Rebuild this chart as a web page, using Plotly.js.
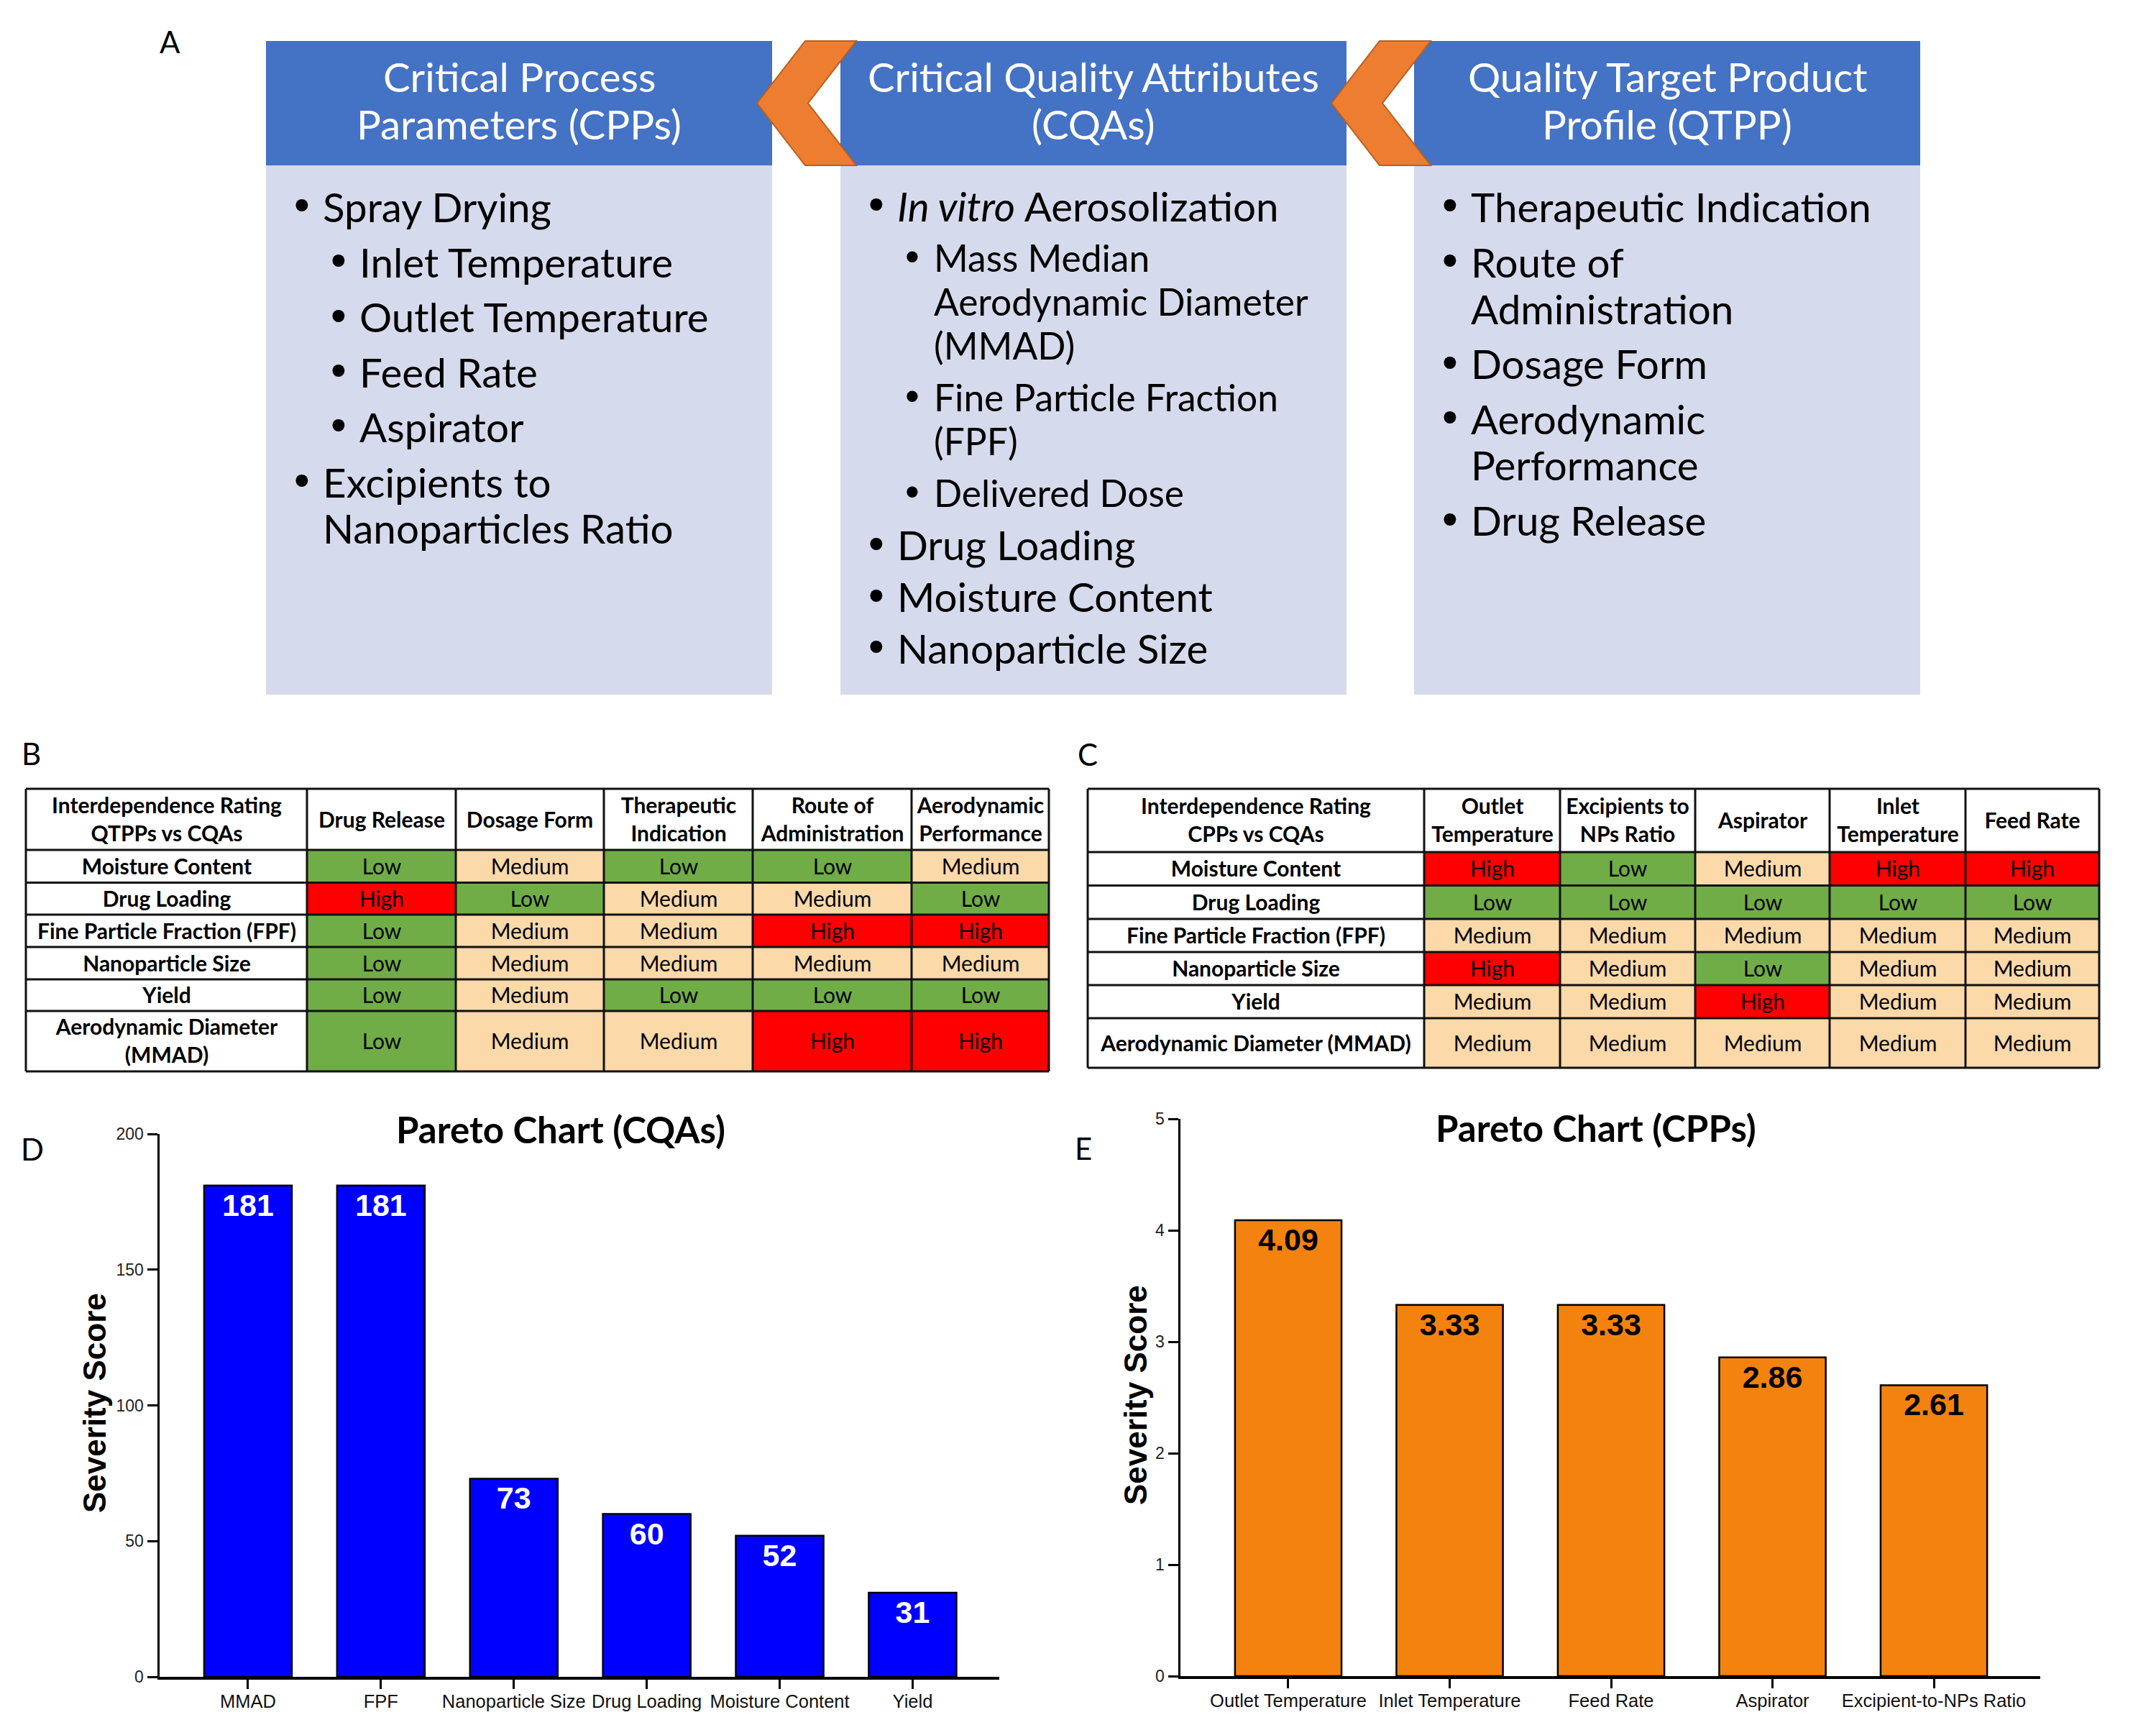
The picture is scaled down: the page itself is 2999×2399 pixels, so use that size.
<!DOCTYPE html>
<html>
<head>
<meta charset="utf-8">
<script src="https://cdn.plot.ly/plotly-3.0.1.min.js"></script>
<style>html,body{margin:0;padding:0;background:#fff;}#chart{width:2999px;height:2399px;}</style>
</head>
<body>
<div id="chart"></div>
<script>
// ---------------- DATA ----------------
const cqaLabels = ['MMAD', 'FPF', 'Nanoparticle Size', 'Drug Loading', 'Moisture Content', 'Yield'];
const cqaScores = [181, 181, 73, 60, 52, 31];
const cqaTicks = [0, 50, 100, 150, 200];

const cppLabels = ['Outlet Temperature', 'Inlet Temperature', 'Feed Rate', 'Aspirator', 'Excipient-to-NPs Ratio'];
const cppScores = [4.09, 3.33, 3.33, 2.86, 2.61];
const cppTicks = [0, 1, 2, 3, 4, 5];

const ratingLevels = ['Low', 'Medium', 'High'];

const tableBCorner = 'Interdependence Rating<br>QTPPs vs CQAs';
const tableBCols = ['Drug Release', 'Dosage Form', 'Therapeutic<br>Indication', 'Route of<br>Administration', 'Aerodynamic<br>Performance'];
const tableBRows = ['Moisture Content', 'Drug Loading', 'Fine Particle Fraction (FPF)', 'Nanoparticle Size', 'Yield', 'Aerodynamic Diameter<br>(MMAD)'];
const tableBRatings = [
  ['Low', 'Medium', 'Low', 'Low', 'Medium'],
  ['High', 'Low', 'Medium', 'Medium', 'Low'],
  ['Low', 'Medium', 'Medium', 'High', 'High'],
  ['Low', 'Medium', 'Medium', 'Medium', 'Medium'],
  ['Low', 'Medium', 'Low', 'Low', 'Low'],
  ['Low', 'Medium', 'Medium', 'High', 'High']
];

const tableCCorner = 'Interdependence Rating<br>CPPs vs CQAs';
const tableCCols = ['Outlet<br>Temperature', 'Excipients to<br>NPs Ratio', 'Aspirator', 'Inlet<br>Temperature', 'Feed Rate'];
const tableCRows = ['Moisture Content', 'Drug Loading', 'Fine Particle Fraction (FPF)', 'Nanoparticle Size', 'Yield', 'Aerodynamic Diameter (MMAD)'];
const tableCRatings = [
  ['High', 'Low', 'Medium', 'High', 'High'],
  ['Low', 'Low', 'Low', 'Low', 'Low'],
  ['Medium', 'Medium', 'Medium', 'Medium', 'Medium'],
  ['High', 'Medium', 'Low', 'Medium', 'Medium'],
  ['Medium', 'Medium', 'High', 'Medium', 'Medium'],
  ['Medium', 'Medium', 'Medium', 'Medium', 'Medium']
];

const cppBoxHeader = ['Critical Process', 'Parameters (CPPs)'];
const cppBoxItems = [
  [0, ['Spray Drying']],
  [1, ['Inlet Temperature']],
  [1, ['Outlet Temperature']],
  [1, ['Feed Rate']],
  [1, ['Aspirator']],
  [0, ['Excipients to', 'Nanoparticles Ratio']]
];
const cqaBoxHeader = ['Critical Quality Attributes', '(CQAs)'];
const cqaBoxItems = [
  [0, ['<i>In vitro</i> Aerosolization']],
  [1, ['Mass Median', 'Aerodynamic Diameter', '(MMAD)']],
  [1, ['Fine Particle Fraction', '(FPF)']],
  [1, ['Delivered Dose']],
  [0, ['Drug Loading']],
  [0, ['Moisture Content']],
  [0, ['Nanoparticle Size']]
];
const qtppBoxHeader = ['Quality Target Product', 'Profile (QTPP)'];
const qtppBoxItems = [
  [0, ['Therapeutic Indication']],
  [0, ['Route of', 'Administration']],
  [0, ['Dosage Form']],
  [0, ['Aerodynamic', 'Performance']],
  [0, ['Drug Release']]
];
const panelLetters = ['A', 'B', 'C', 'D', 'E'];

// ---------------- LAYOUT CONSTANTS ----------------
const W = 2999, H = 2399;
const px = x => x / W;
const py = y => 1 - y / H;
const LAT = 'Lato, "Open Sans", sans-serif';
const ARIAL = '"Liberation Sans", Arial, sans-serif';

const shapes = [];
const annotations = [];
const traces = [];

// ---- Panel A ----
const boxLefts = [370, 1169, 1967];
const boxW = 704, headTop = 57, headBot = 230, boxBot = 966;
const boxes = [
  {header: cppBoxHeader, items: cppBoxItems, first: 287, gap: 76.5, cont: 65, sub: 56.5},
  {header: cqaBoxHeader, items: cqaBoxItems, first: 286, gap: 72, cont: 61, sub: 51.5},
  {header: qtppBoxHeader, items: qtppBoxItems, first: 287, gap: 76.5, cont: 65, sub: 56.5}
];
const bodyFont = 56.5;
boxes.forEach((b, i) => {
  const L = boxLefts[i];
  shapes.push({type: 'rect', xref: 'paper', yref: 'paper', x0: px(L), x1: px(L + boxW), y0: py(boxBot), y1: py(headBot),
    fillcolor: '#D5DAEC', line: {width: 0}, layer: 'below'});
  shapes.push({type: 'rect', xref: 'paper', yref: 'paper', x0: px(L), x1: px(L + boxW), y0: py(headBot), y1: py(headTop),
    fillcolor: '#4472C4', line: {width: 0}, layer: 'below'});
  const hy = [106, 172];
  b.header.forEach((t, k) => {
    annotations.push({xref: 'paper', yref: 'paper', x: px(L + boxW / 2), y: py(hy[k]), xanchor: 'center', yanchor: 'middle',
      text: t, showarrow: false, font: {family: LAT, size: bodyFont, color: '#FFFFFF'}});
  });
  let y = b.first - b.gap;
  b.items.forEach(([lvl, lines]) => {
    y += b.gap;
    const fs = lvl === 0 ? bodyFont : b.sub;
    const bx = L + (lvl === 0 ? 37 : 88);
    const tx = L + (lvl === 0 ? 77 : 128);
    annotations.push({xref: 'paper', yref: 'paper', x: px(bx), y: py(y - 2), xanchor: 'left', yanchor: 'middle',
      text: '•', showarrow: false, font: {family: ARIAL, size: fs * 1.1, color: '#000'}});
    lines.forEach((ln, k) => {
      if (k > 0) y += b.cont;
      annotations.push({xref: 'paper', yref: 'paper', x: px(tx), y: py(y), xanchor: 'left', yanchor: 'middle',
        text: ln, showarrow: false, font: {family: LAT, size: fs, color: '#000'}});
    });
  });
});
// chevrons
[0, 1].forEach(i => {
  const R = boxLefts[i] + boxW;
  const M = (headTop + headBot) / 2;
  const pts = [[R - 21, M], [R + 46, headTop], [R + 117, headTop], [R + 50, M], [R + 117, headBot], [R + 46, headBot]];
  const path = 'M ' + pts.map(p => px(p[0]) + ',' + py(p[1])).join(' L ') + ' Z';
  shapes.push({type: 'path', xref: 'paper', yref: 'paper', path: path, fillcolor: '#ED7D31',
    line: {color: '#B9601F', width: 2}, layer: 'above'});
});

// panel letters
const letterPos = [[236, 58], [43, 1048], [1513, 1049], [45, 1598], [1507, 1597]];
panelLetters.forEach((l, i) => {
  annotations.push({xref: 'paper', yref: 'paper', x: px(letterPos[i][0]), y: py(letterPos[i][1]), xanchor: 'center', yanchor: 'middle',
    text: l, showarrow: false, font: {family: LAT, size: 42, color: '#000'}});
});

// ---- Tables ----
const ratingColors = ['#FFFFFF', '#70AD47', '#FCD9A8', '#FF0000'];
const cs = [];
ratingColors.forEach((c, i) => { cs.push([i / 4, c]); cs.push([(i + 1) / 4, c]); });

function cumsum(a) { const r = [0]; a.forEach(v => r.push(r[r.length - 1] + v)); return r; }

function buildTable(corner, cols, rows, ratings, colW, rowH, left, top, ax) {
  const xe = cumsum(colW), ye = cumsum(rowH);
  const TW = xe[xe.length - 1], TH = ye[ye.length - 1];
  const z = [], txt = [];
  z.push(new Array(cols.length + 1).fill(0));
  txt.push(['<b>' + corner + '</b>'].concat(cols.map(c => '<b>' + c + '</b>')));
  rows.forEach((r, i) => {
    z.push([0].concat(ratings[i].map(v => ratingLevels.indexOf(v) + 1)));
    txt.push(['<b>' + r + '</b>'].concat(ratings[i]));
  });
  traces.push({type: 'heatmap', x: xe, y: ye, z: z, text: txt, texttemplate: '%{text}',
    textfont: {family: LAT, size: 30, color: '#000'}, colorscale: cs, zmin: -0.5, zmax: 3.5,
    showscale: false, hoverinfo: 'skip', xaxis: 'x' + ax, yaxis: 'y' + ax});
  const lx = [], ly = [];
  xe.forEach(x => { lx.push(x, x, null); ly.push(0, TH, null); });
  ye.forEach(y => { lx.push(0, TW, null); ly.push(y, y, null); });
  traces.push({type: 'scatter', mode: 'lines', x: lx, y: ly, line: {color: '#111', width: 3},
    hoverinfo: 'skip', showlegend: false, xaxis: 'x' + ax, yaxis: 'y' + ax});
  const p = 4;
  return {
    x: {domain: [px(left - p), px(left + TW + p)], range: [-p, TW + p], visible: false, fixedrange: true, anchor: 'y' + ax},
    y: {domain: [py(top + TH + p), py(top - p)], range: [TH + p, -p], visible: false, fixedrange: true, anchor: 'x' + ax}
  };
}
const axB = buildTable(tableBCorner, tableBCols, tableBRows, tableBRatings,
  [391, 207, 206, 207, 221, 191], [85, 45.5, 44.5, 45, 45, 44, 84], 36, 1097, 3);
const axC = buildTable(tableCCorner, tableCCols, tableCRows, tableCRatings,
  [468, 189, 188, 187, 189, 186], [88, 46.5, 46.5, 46, 46, 46, 69], 1513, 1097, 4);

// ---- Pareto charts ----
traces.push({type: 'bar', x: cqaLabels, y: cqaScores, text: cqaScores.map(String),
  textposition: 'inside', insidetextanchor: 'end', constraintext: 'none', textangle: 0,
  textfont: {family: ARIAL, size: 43, color: '#FFFFFF', weight: 'bold'},
  marker: {color: '#0000FF', line: {color: '#000', width: 2.5}}, hoverinfo: 'skip', xaxis: 'x', yaxis: 'y'});
traces.push({type: 'bar', x: cppLabels, y: cppScores, text: cppScores.map(v => v.toFixed(2)),
  textposition: 'inside', insidetextanchor: 'end', constraintext: 'none', textangle: 0,
  textfont: {family: ARIAL, size: 43, color: '#000000', weight: 'bold'},
  marker: {color: '#F4820E', line: {color: '#000', width: 2.5}}, hoverinfo: 'skip', xaxis: 'x2', yaxis: 'y2'});

const xCommon = {type: 'category', ticks: 'outside', ticklen: 13, tickwidth: 3, tickcolor: '#000', tickangle: 0,
  ticklabelstandoff: -4,
  showline: true, linewidth: 3.5, linecolor: '#000', showgrid: false, zeroline: false, fixedrange: true,
  tickfont: {family: ARIAL, size: 25.5, color: '#111'}};
const yCommon = {ticks: 'outside', ticklen: 14, tickwidth: 3, tickcolor: '#000',
  showline: true, linewidth: 3.5, linecolor: '#000', showgrid: false, zeroline: false, fixedrange: true,
  tickfont: {family: ARIAL, size: 23, color: '#222'}};

const layout = {
  width: W, height: H, margin: {l: 0, r: 0, t: 0, b: 0}, paper_bgcolor: '#FFFFFF', plot_bgcolor: 'rgba(0,0,0,0)',
  showlegend: false, bargap: 0.34,
  xaxis: Object.assign({}, xCommon, {domain: [px(222), px(1390)], range: [-0.665, 5.652], anchor: 'y'}),
  yaxis: Object.assign({}, yCommon, {domain: [py(2332), py(1577)], range: [0, 200], tickvals: cqaTicks, anchor: 'x'}),
  xaxis2: Object.assign({}, xCommon, {domain: [px(1642), px(2838)], range: [-0.668, 4.659], anchor: 'y2'}),
  yaxis2: Object.assign({}, yCommon, {domain: [py(2331), py(1556)], range: [0, 5], tickvals: cppTicks, anchor: 'x2'}),
  xaxis3: axB.x, yaxis3: axB.y, xaxis4: axC.x, yaxis4: axC.y,
  shapes: shapes,
  annotations: annotations.concat([
    {xref: 'paper', yref: 'paper', x: px(780), y: py(1570), xanchor: 'center', yanchor: 'middle', showarrow: false,
      text: '<b>Pareto Chart (CQAs)</b>', font: {family: LAT, size: 51, color: '#000'}},
    {xref: 'paper', yref: 'paper', x: px(2220), y: py(1569), xanchor: 'center', yanchor: 'middle', showarrow: false,
      text: '<b>Pareto Chart (CPPs)</b>', font: {family: LAT, size: 51, color: '#000'}},
    {xref: 'paper', yref: 'paper', x: px(131), y: py(1951), xanchor: 'center', yanchor: 'middle', showarrow: false, textangle: -90,
      text: '<b>Severity Score</b>', font: {family: ARIAL, size: 44, color: '#000'}},
    {xref: 'paper', yref: 'paper', x: px(1579), y: py(1940), xanchor: 'center', yanchor: 'middle', showarrow: false, textangle: -90,
      text: '<b>Severity Score</b>', font: {family: ARIAL, size: 44, color: '#000'}}
  ])
};

Plotly.newPlot('chart', traces, layout, {displayModeBar: false, staticPlot: true});
</script>
</body>
</html>
